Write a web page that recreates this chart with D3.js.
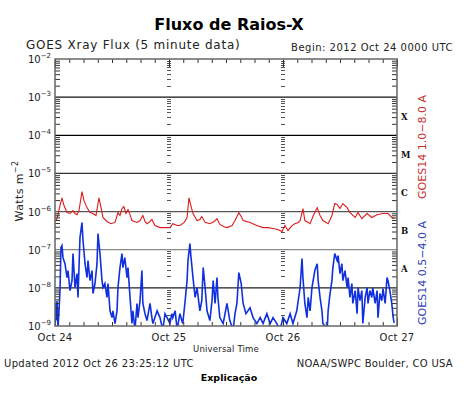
<!DOCTYPE html>
<html><head><meta charset="utf-8">
<script src="https://cdn.jsdelivr.net/npm/d3@7"></script>
<style>body{margin:0;background:#fff}svg{display:block}</style>
</head><body>
<script>
// ---- data (hours since 2012 Oct 24 00:00 UTC, flux in W m^-2) ----
const dayLabels = ["Oct 24","Oct 25","Oct 26","Oct 27"];
const dayHours = [0,24,48,72];
const decadeExps = [-2,-3,-4,-5,-6,-7,-8,-9];
const flareClasses = ["X","M","C","B","A"];
const flareClassFlux = [3.16e-4,3.16e-5,3.16e-6,3.16e-7,3.16e-8];

const redHours = [0,0.42,1.05,1.47,1.89,2.53,3.16,3.79,4.21,4.63,5.05,5.68,6.1,6.74,7.37,8.0,8.63,9.26,9.68,10.1,10.95,11.79,12.63,13.26,13.68,14.1,14.5,14.95,15.37,15.8,16.2,17.26,17.9,18.5,18.95,19.37,20.0,20.4,21.05,22.1,23.16,24.2,24.8,25.7,26.3,27.2,27.8,28.2,28.6,29.05,29.9,30.5,30.9,31.6,32.6,33.5,34.1,34.7,35.6,36.2,37.3,37.9,38.5,38.7,39.2,39.6,41.05,42.5,43.8,44.8,45.9,46.9,47.8,48.4,49.05,49.9,50.5,51.2,51.6,52.2,52.6,53.3,53.7,54.3,55.2,55.8,56.4,57.05,57.5,58.3,58.9,59.4,60.0,60.6,61.5,62.1,63.2,63.8,64.6,65.7,66.7,67.8,69.05,70.1,70.9,71.4];
const redFlux = [5.5e-7,6.5e-7,1.44e-6,2.3e-6,1.44e-6,9.4e-7,8.9e-7,1.06e-6,8.9e-7,8.3e-7,1.06e-6,3.35e-6,1.94e-6,1.27e-6,9.4e-7,8.9e-7,7.9e-7,2.3e-6,1.27e-6,7.0e-7,5.5e-7,4.8e-7,5.2e-7,9.4e-7,7.9e-7,1.2e-6,1.35e-6,8.9e-7,1.13e-6,8.3e-7,5.8e-7,5.2e-7,5.8e-7,7.9e-7,5.5e-7,4.8e-7,5.5e-7,6.2e-7,4.3e-7,3.8e-7,3.8e-7,3.8e-7,4.8e-7,4.3e-7,4.3e-7,5.2e-7,7.0e-7,2.3e-6,1.44e-6,8.9e-7,5.8e-7,6.2e-7,7.4e-7,5.2e-7,4.8e-7,5.5e-7,6.5e-7,4.6e-7,4.0e-7,3.8e-7,4.3e-7,5.8e-7,8.3e-7,9.4e-7,7.4e-7,5.8e-7,5.2e-7,4.3e-7,3.8e-7,3.8e-7,3.6e-7,3.4e-7,3.0e-7,4.3e-7,3.2e-7,4.3e-7,4.8e-7,5.2e-7,5.8e-7,1.2e-6,5.8e-7,5.2e-7,4.8e-7,7.4e-7,1.27e-6,7.9e-7,5.8e-7,5.2e-7,4.8e-7,7.9e-7,1.62e-6,1.53e-6,1.2e-6,1.62e-6,1.27e-6,9.4e-7,7.0e-7,9.4e-7,6.5e-7,8.9e-7,7.0e-7,8.3e-7,8.9e-7,8.9e-7,7.0e-7,6.5e-7];

const blueHours = [0,0.21,0.42,0.63,1.05,1.26,1.47,1.68,2.1,2.53,2.74,3.16,3.58,3.79,4.21,4.63,4.84,5.26,5.68,5.9,6.32,6.74,6.95,7.37,7.79,8.0,8.42,8.84,9.05,9.47,9.9,10.1,10.5,10.95,11.16,11.58,12.0,12.2,12.63,13.05,13.26,13.68,14.1,14.3,14.7,15.16,15.37,15.8,16.2,16.4,16.84,17.26,17.47,17.9,18.3,18.5,18.95,19.37,20.0,20.4,20.6,21.5,22.1,22.7,23.16,23.6,24.2,24.6,24.8,25.3,25.7,26.3,26.7,26.9,27.4,27.8,28.0,28.4,28.6,29.05,29.5,29.9,30.5,30.9,31.2,31.6,32.0,32.6,33.05,33.3,33.7,34.1,34.3,34.7,35.4,35.8,36.2,36.8,37.5,37.9,38.3,38.7,39.2,39.6,40.2,41.05,41.7,42.5,43.2,43.8,44.6,45.3,45.9,46.7,47.4,48.0,48.8,49.5,50.1,50.9,51.6,52.0,52.2,52.6,53.05,53.3,53.7,54.1,54.7,55.2,55.4,55.8,56.2,56.4,57.3,57.5,57.9,58.3,58.5,58.9,59.4,59.6,60.0,60.4,60.6,61.05,61.5,61.7,62.1,62.5,62.7,63.2,63.6,63.8,64.2,64.6,64.8,65.3,65.7,65.9,66.3,66.7,66.9,67.4,67.8,68.0,68.4,68.8,69.05,69.5,69.9,70.1,70.5,70.9,71.2,71.4];
const blueFlux = [3.9e-9,1.39e-9,4.6e-9,8e-10,8.5e-9,1.14e-7,1.28e-7,6.2e-8,4.3e-8,1.86e-8,2.84e-8,8.5e-9,1.55e-8,7.9e-8,1.02e-8,2.37e-8,5.6e-9,2.08e-7,5.15e-7,1.74e-7,4.3e-8,1.86e-8,5.2e-8,1.55e-8,2.84e-8,7.1e-9,1.3e-8,4.3e-8,2.65e-7,7.9e-8,1.55e-8,1.02e-8,1.3e-8,5.6e-9,1.3e-8,2.5e-9,1.66e-9,2.5e-9,1.16e-9,2.5e-9,1.02e-8,3.4e-8,7.9e-8,3.4e-8,6.2e-8,1.86e-8,3.4e-8,5.6e-9,1.16e-9,2.5e-9,8e-10,3.9e-9,1.66e-9,4.6e-9,2.84e-8,3.9e-9,2.1e-9,1.39e-9,3.9e-9,1.66e-9,1.16e-9,2.5e-9,1.66e-9,8e-10,2.1e-9,1.66e-9,1.16e-9,2.1e-9,1.66e-9,2.5e-9,8e-10,2.1e-9,1.39e-9,1.16e-9,4.6e-9,1.55e-8,5.2e-8,1.45e-7,7.0e-8,1.86e-8,5.6e-9,1.02e-8,2.5e-9,4.6e-9,3.4e-8,1.02e-8,2.5e-9,1.39e-9,4.6e-9,1.55e-8,3.9e-9,1.86e-8,5.6e-9,1.66e-9,1.16e-9,2.1e-9,3.9e-9,1.39e-9,8e-10,2.1e-9,3.9e-9,2.52e-8,1.3e-8,3.9e-9,2.1e-9,3.0e-9,1.66e-9,1.16e-9,1.66e-9,1.16e-9,2.1e-9,1.16e-9,1.66e-9,1.16e-9,8e-10,1.66e-9,1.16e-9,2.1e-9,1.16e-9,2.5e-9,1.02e-8,5.9e-8,1.86e-8,3.9e-9,1.66e-9,5.6e-9,2.5e-9,1.02e-8,2.84e-8,4.3e-8,1.55e-8,5.6e-9,2.5e-9,1.16e-9,8e-10,2.5e-9,7.1e-9,1.55e-8,3.4e-8,7.9e-8,5.2e-8,7.0e-8,2.37e-8,4.3e-8,1.55e-8,2.84e-8,1.02e-8,1.86e-8,5.6e-9,1.3e-8,3.9e-9,8.5e-9,2.1e-9,1.02e-8,4.6e-9,8.5e-9,1.16e-9,5.6e-9,1.02e-8,3.9e-9,8.5e-9,5.6e-9,1.02e-8,3.9e-9,8.5e-9,1.66e-9,7.1e-9,4.6e-9,9.5e-9,3.9e-9,1.86e-8,1.55e-8,8.5e-9,3.9e-9,1.66e-9,1.2e-9];

// ---- drawing ----
const W = 466, H = 393;
const L = 55, R = 397, T = 59, B = 326;
const svg = d3.select("body").append("svg").attr("width", W).attr("height", H)
  .style("font-family", "'DejaVu Sans', sans-serif");

const x = d3.scaleLinear().domain([0, 72]).range([L, R]);
const y = d3.scaleLog().domain([1e-9, 1e-2]).range([B, T]);

const minorVals = [];
for (let e = -9; e < -2; e++) for (let m = 2; m <= 9; m++) minorVals.push(m * Math.pow(10, e));

// gridlines at decades
const gridColor = {"-3":"#111","-4":"#000","-5":"#333","-6":"#555","-7":"#888","-8":"#222"};
svg.append("g").selectAll("line").data(decadeExps.filter(e => e < -2 && e > -9)).join("line")
  .attr("x1", L).attr("x2", R)
  .attr("y1", e => y(Math.pow(10, e))).attr("y2", e => y(Math.pow(10, e)))
  .attr("stroke", e => gridColor[e]).attr("stroke-width", 1.2);

// day boundary minor-tick columns
[24, 48].forEach(h => {
  const gx = Math.round(x(h));
  svg.append("g").selectAll("line").data(minorVals).join("line")
    .attr("x1", gx - 2).attr("x2", gx + 2)
    .attr("y1", d => Math.round(y(d)) + 0.5).attr("y2", d => Math.round(y(d)) + 0.5)
    .attr("stroke", "#555").attr("stroke-width", 1);
});

// series
svg.append("clipPath").attr("id", "c").append("rect")
  .attr("x", L).attr("y", T).attr("width", R - L).attr("height", B - T);
const line = d3.line().x(d => x(d[0])).y(d => y(d[1]));
svg.append("path").datum(blueHours.map((h, i) => [h, blueFlux[i]]))
  .attr("clip-path", "url(#c)").attr("d", line)
  .attr("fill", "none").attr("stroke", "#1030e0").attr("stroke-width", 1.6);
svg.append("path").datum(redHours.map((h, i) => [h, redFlux[i]]))
  .attr("clip-path", "url(#c)").attr("d", line)
  .attr("fill", "none").attr("stroke", "#dd1a1a").attr("stroke-width", 1.1);

// axes (ticks only, inward)
const hourTicks = d3.range(0, 73, 3);
const gL = svg.append("g").attr("transform", `translate(${L},0)`)
  .call(d3.axisRight(y).tickValues(minorVals).tickSize(5).tickFormat(""));
const gR = svg.append("g").attr("transform", `translate(${R},0)`)
  .call(d3.axisLeft(y).tickValues(minorVals).tickSize(5).tickFormat(""));
const gT = svg.append("g").attr("transform", `translate(0,${T})`)
  .call(d3.axisBottom(x).tickValues(hourTicks).tickSize(4).tickFormat(""));
const gB = svg.append("g").attr("transform", `translate(0,${B})`)
  .call(d3.axisTop(x).tickValues(hourTicks).tickSize(4).tickFormat(""));
const gT2 = svg.append("g").attr("transform", `translate(0,${T})`)
  .call(d3.axisBottom(x).tickValues(dayHours).tickSize(8).tickFormat(""));
const gB2 = svg.append("g").attr("transform", `translate(0,${B})`)
  .call(d3.axisTop(x).tickValues(dayHours).tickSize(8).tickFormat(""));
[gL, gR, gT, gB, gT2, gB2].forEach(g => {
  g.select(".domain").remove();
  g.selectAll("line").attr("stroke", "#333");
});
// frame
svg.append("rect").attr("x", L).attr("y", T).attr("width", R - L).attr("height", B - T)
  .attr("fill", "none").attr("stroke", "#666").attr("stroke-width", 1.5);

// left decade labels
const lab = svg.append("g").attr("font-size", 10).attr("fill", "#222");
decadeExps.forEach(e => {
  const t = lab.append("text").attr("x", 51).attr("y", y(Math.pow(10, e)) + 4)
    .attr("text-anchor", "end");
  t.append("tspan").text("10");
  t.append("tspan").attr("dy", -5).attr("font-size", 7).text("\u2212" + (-e));
});

// day labels
svg.append("g").selectAll("text").data(dayLabels).join("text")
  .attr("x", (d, i) => x(dayHours[i])).attr("y", 341)
  .attr("text-anchor", "middle").attr("font-size", 10).attr("letter-spacing", 0.3)
  .attr("fill", "#222").text(d => d);

svg.append("text").attr("x", 226).attr("y", 352).attr("text-anchor", "middle")
  .attr("font-size", 8.5).attr("letter-spacing", 0.2).attr("fill", "#222").text("Universal Time");

// flare class letters
svg.append("g").selectAll("text").data(flareClasses).join("text")
  .attr("x", 401).attr("y", (d, i) => y(flareClassFlux[i]) + 3.5)
  .attr("font-family", "'DejaVu Serif', serif").attr("font-weight", "bold")
  .attr("font-size", 8.5).attr("fill", "#111").text(d => d);

// right rotated series labels
svg.append("text").attr("transform", "translate(426,147) rotate(-90)")
  .attr("text-anchor", "middle").attr("font-size", 11).attr("fill", "#c83030")
  .text("GOES14 1.0\u22128.0 A");
svg.append("text").attr("transform", "translate(426,273) rotate(-90)")
  .attr("text-anchor", "middle").attr("font-size", 11).attr("fill", "#3040b8")
  .text("GOES14 0.5\u22124.0 A");

// y title
const yt = svg.append("text").attr("transform", "translate(23,191) rotate(-90)")
  .attr("text-anchor", "middle").attr("font-size", 11).attr("letter-spacing", 0.4).attr("fill", "#222");
yt.append("tspan").text("Watts m");
yt.append("tspan").attr("dy", -5).attr("font-size", 8).text("\u22122");

// titles
svg.append("text").attr("x", 229).attr("y", 30).attr("text-anchor", "middle")
  .attr("font-size", 16).attr("font-weight", "bold").attr("fill", "#000").text("Fluxo de Raios-X");
svg.append("text").attr("x", 26).attr("y", 49).attr("font-size", 12).attr("letter-spacing", 0.75)
  .attr("fill", "#222").text("GOES Xray Flux (5 minute data)");
svg.append("text").attr("x", 453).attr("y", 51).attr("text-anchor", "end")
  .attr("font-size", 10).attr("letter-spacing", 0.5).attr("fill", "#222").text("Begin:  2012 Oct 24 0000 UTC");
svg.append("text").attr("x", 4).attr("y", 367).attr("font-size", 10).attr("letter-spacing", 0.35)
  .attr("fill", "#222").text("Updated 2012 Oct 26 23:25:12 UTC");
svg.append("text").attr("x", 453).attr("y", 367).attr("text-anchor", "end")
  .attr("font-size", 10).attr("letter-spacing", 0.3).attr("fill", "#222").text("NOAA/SWPC Boulder, CO USA");
svg.append("text").attr("x", 229).attr("y", 381).attr("text-anchor", "middle")
  .attr("font-size", 9.5).attr("font-weight", "bold").attr("fill", "#000").text("Explicação");
</script>
</body></html>
